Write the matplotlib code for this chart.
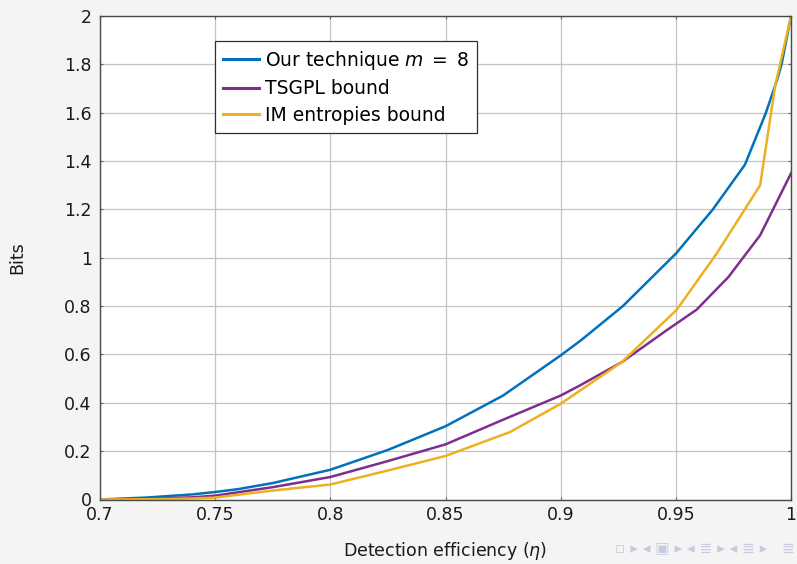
import matplotlib
matplotlib.use("Agg")
import matplotlib.pyplot as plt

# ---- data ----
eta_ours = [0.70, 0.72, 0.74, 0.75, 0.76, 0.775, 0.80, 0.825, 0.85, 0.875, 0.90,
            0.909, 0.927, 0.95, 0.966, 0.98, 0.989, 0.994, 0.996, 1.0]
bits_ours = [0.0, 0.008, 0.021, 0.031, 0.043, 0.068, 0.123, 0.205, 0.303, 0.43, 0.596,
             0.66, 0.80, 1.017, 1.199, 1.385, 1.597, 1.737, 1.804, 2.0]

eta_tsgpl = [0.70, 0.72, 0.74, 0.75, 0.775, 0.80, 0.825, 0.85, 0.875, 0.90,
             0.9084, 0.9265, 0.946, 0.959, 0.9728, 0.9866, 1.0]
bits_tsgpl = [0.0, 0.003, 0.009, 0.016, 0.051, 0.093, 0.159, 0.228, 0.33, 0.43,
              0.472, 0.568, 0.70, 0.785, 0.92, 1.093, 1.349]

eta_im = [0.70, 0.72, 0.74, 0.75, 0.775, 0.80, 0.825, 0.85, 0.878, 0.90,
          0.9265, 0.9504, 0.9677, 0.9866, 0.9931, 1.0]
bits_im = [0.0, 0.001, 0.004, 0.008, 0.037, 0.062, 0.12, 0.18, 0.279, 0.396,
           0.568, 0.785, 1.017, 1.30, 1.71, 2.0]

labels = ["Our technique $m\\;=\\;8$", "TSGPL bound", "IM entropies bound"]
colors = ["#0072BD", "#7E2F8E", "#EDB120"]

xticks = [0.7, 0.75, 0.8, 0.85, 0.9, 0.95, 1.0]
xticklabels = ["0.7", "0.75", "0.8", "0.85", "0.9", "0.95", "1"]
yticks = [0, 0.2, 0.4, 0.6, 0.8, 1.0, 1.2, 1.4, 1.6, 1.8, 2.0]
yticklabels = ["0", "0.2", "0.4", "0.6", "0.8", "1", "1.2", "1.4", "1.6", "1.8", "2"]

plt.rcParams['font.family'] = ['DejaVu Sans']
plt.rcParams['mathtext.fontset'] = 'dejavusans'

fig = plt.figure(figsize=(7.97, 5.64), dpi=100, facecolor="#f4f4f4")
ax = fig.add_axes([100/797, (564-499.5)/564, 691/797, 483.5/564])
ax.set_facecolor("white")

for x, y, lab, c in zip([eta_ours, eta_tsgpl, eta_im],
                        [bits_ours, bits_tsgpl, bits_im], labels, colors):
    ax.plot(x, y, color=c, lw=1.8, label=lab, solid_joinstyle='miter')

ax.set_xlim(0.7, 1.0)
ax.set_ylim(0, 2)
ax.set_xticks(xticks)
ax.set_xticklabels(xticklabels)
ax.set_yticks(yticks)
ax.set_yticklabels(yticklabels)
ax.grid(True, color="#c4c4c4", lw=0.9)
ax.set_axisbelow(True)
ax.tick_params(direction="in", length=2.5, width=0.8, color="#606060",
               top=True, right=True, labelsize=12.5, labelcolor="#1a1a1a")
ax.tick_params(axis="x", pad=5)
ax.tick_params(axis="y", pad=6)
for s in ax.spines.values():
    s.set_color("#4a4a4a")
    s.set_linewidth(1.0)

ax.set_xlabel("Detection efficiency ($\\eta$)", fontsize=12.5, color="#1a1a1a", labelpad=11)
ax.set_ylabel("Bits", fontsize=12.5, color="#1a1a1a", labelpad=27)

leg = ax.legend(loc="upper left", bbox_to_anchor=((215-100)/691, (499.5-41)/483.5),
                borderaxespad=0, fontsize=13.5, frameon=True, fancybox=False,
                edgecolor="#303030", framealpha=1, handlelength=1.9,
                handletextpad=0.35, borderpad=0.42, labelspacing=0.4)
leg.get_frame().set_linewidth(0.9)
for line in leg.get_lines():
    line.set_linewidth(2.2)

# beamer navigation symbols
fig.text(0.997, 0.027, "\u25ab \u25b8 \u25c2 \u25a3 \u25b8 \u25c2 \u2263 \u25b8 \u25c2 \u2263 \u25b8   \u2263",
         ha="right", va="center", fontsize=11, color="#c5cae0")

fig.savefig("out.png", dpi=100, facecolor=fig.get_facecolor())
